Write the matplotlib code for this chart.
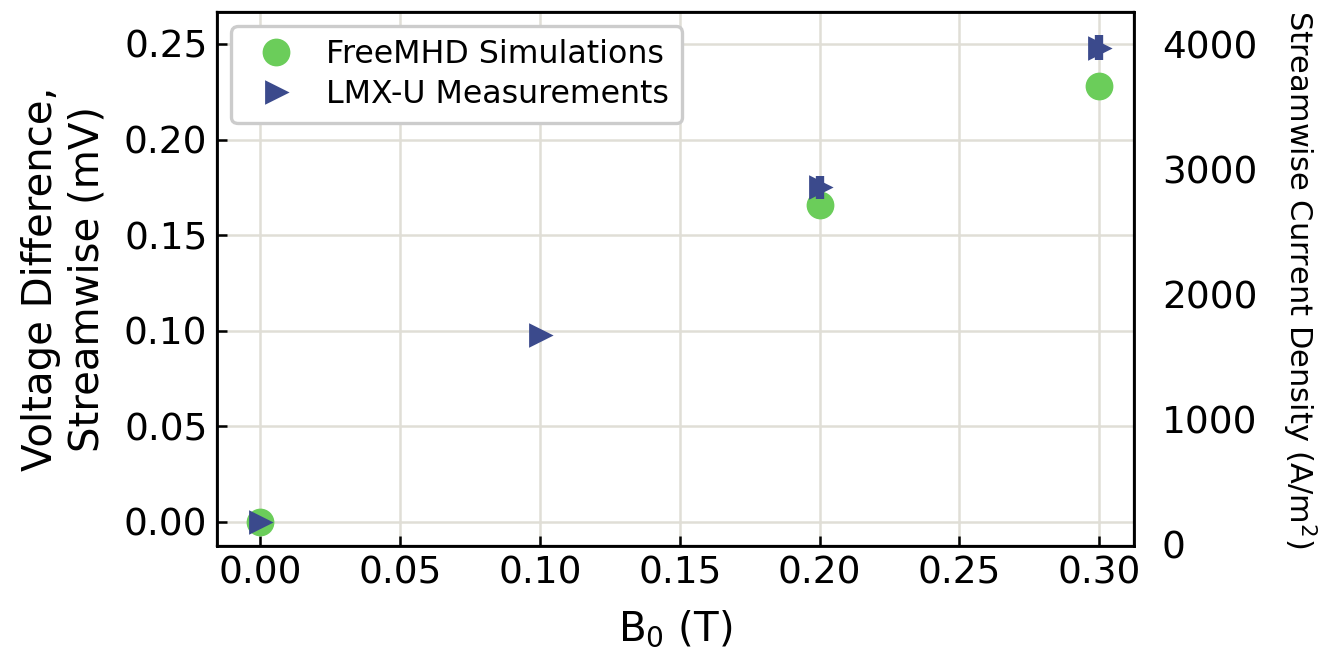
import matplotlib.pyplot as plt
import numpy as np

# magnetic field strength (T)
b_sim = np.array([0.0, 0.2, 0.3])
v_sim = np.array([0.0, 0.166, 0.228])

b_exp = np.array([0.0, 0.1, 0.2, 0.3])
v_exp = np.array([0.0, 0.098, 0.175, 0.248])
v_exp_err = np.array([0.0, 0.001, 0.006, 0.0065])

green = '#6bcd5a'
blue = '#3b4a8c'

plt.rcParams['font.size'] = 13.5

fig = plt.figure(figsize=(6.62, 3.235), dpi=200)
ax = fig.add_axes([0.164, 0.156, 0.6925, 0.8255])

ax.grid(True, color='#e0ded6', linewidth=0.9, zorder=0)
ax.set_axisbelow(True)

ax.plot(b_sim, v_sim, 'o', color=green, markersize=9, label='FreeMHD Simulations', zorder=3)
ax.errorbar(b_exp, v_exp, yerr=v_exp_err, fmt='none', ecolor=blue,
            elinewidth=3, capsize=0, zorder=4)
ax.plot(b_exp, v_exp, '>', color=blue, markersize=7.5, label='LMX-U Measurements', zorder=5)

ax.set_xlim(-0.0155, 0.3125)
ax.set_ylim(-0.0126, 0.2667)
ax.set_xticks(np.arange(0, 0.31, 0.05))
ax.set_yticks(np.arange(0, 0.26, 0.05))
ax.xaxis.set_major_formatter(plt.FormatStrFormatter('%.2f'))
ax.yaxis.set_major_formatter(plt.FormatStrFormatter('%.2f'))
ax.tick_params(direction='in', length=3.5, width=0.9)
for s in ax.spines.values():
    s.set_linewidth(1.0)

ax.set_xlabel('B$_0$ (T)', fontsize=14.5, labelpad=6)
ax.set_ylabel('Voltage Difference,\nStreamwise (mV)', fontsize=14.5, labelpad=6)

leg = ax.legend(loc='upper left', fontsize=11.4, framealpha=1, edgecolor='#cccccc',
                borderaxespad=0.45, labelspacing=0.3, handletextpad=0.6)
leg.get_frame().set_linewidth(1.2)

# second axis for the equivalent current density
ax2 = ax.twinx()
ax2.set_ylim(-15, 4262)
ax2.set_yticks([0, 1000, 2000, 3000, 4000])
ax2.tick_params(length=0, pad=10)
ax2.set_ylabel('Streamwise Current Density (A/m$^2$)', rotation=270,
               fontsize=11.0, labelpad=22)

fig.savefig('out.png', dpi=200)
